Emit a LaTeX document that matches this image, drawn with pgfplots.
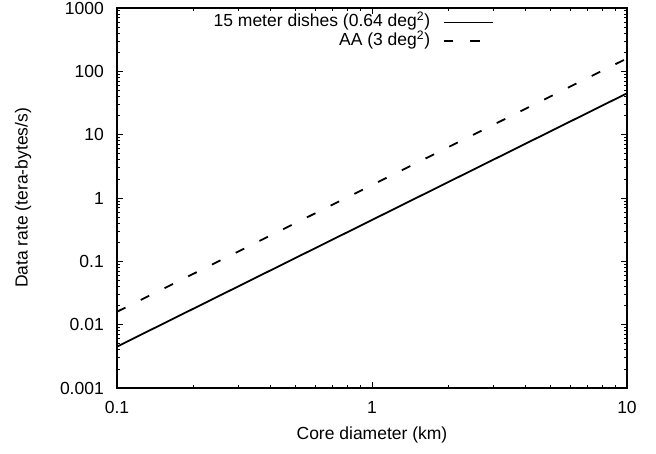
\documentclass[border=0pt]{standalone}
\usepackage{fontspec}
\setmainfont{Liberation Sans}
\usepackage{pgfplots}
\pgfplotsset{compat=1.18}
\newcommand{\fs}{\fontsize{17.5}{21}\selectfont}
\begin{document}
\begin{tikzpicture}
\path[use as bounding box] (-117pt,-65pt) rectangle (539pt,388pt);
\begin{axis}[
  at={(0pt,0pt)}, anchor=south west,
  scale only axis, width=510pt, height=380pt,
  xmode=log, ymode=log,
  xmin=0.1, xmax=10, ymin=0.001, ymax=1000,
  xtick={0.1,1,10}, xticklabels={0.1,1,10},
  ytick={0.001,0.01,0.1,1,10,100,1000},
  yticklabels={0.001,0.01,0.1,1,10,100,1000},
  minor xtick={0.2,0.3,0.4,0.5,0.6,0.7,0.8,0.9,2,3,4,5,6,7,8,9},
  minor ytick={0.002,0.003,0.004,0.005,0.006,0.007,0.008,0.009,
    0.02,0.03,0.04,0.05,0.06,0.07,0.08,0.09,
    0.2,0.3,0.4,0.5,0.6,0.7,0.8,0.9,
    2,3,4,5,6,7,8,9,20,30,40,50,60,70,80,90,200,300,400,500,600,700,800,900},
  tick align=inside, xtick pos=both, ytick pos=both,
  major tick length=6pt, minor tick length=3pt,
  every tick/.style={black, line width=0.8pt},
  axis line style={line width=1.3pt},
  every tick label/.append style={font=\fs},
  yticklabel style={inner sep=0pt, anchor=east, xshift=-13pt},
  xticklabel style={inner sep=0pt, anchor=north, yshift=-13pt},
  xlabel={Core diameter (km)},
  ylabel={Data rate (tera-bytes/s)},
  xlabel style={font=\fs, inner sep=0pt, anchor=north, at={(axis description cs:0.5,0)}, yshift=-39pt},
  ylabel style={font=\fs, inner sep=0pt, anchor=center, at={(axis description cs:0,0.5)}, yshift=94pt},
  legend plot pos=right,
  legend cell align=right,
  legend style={draw=none, fill=none, font=\fs, inner sep=0pt, outer sep=0pt,
    at={(0.739,0.983)}, anchor=north east, row sep=2.5pt, column sep=13pt,
    nodes={inner sep=0pt, text height=12.5pt, text depth=3.5pt}},
  legend image code/.code={\draw[#1] (0pt,0pt) -- (49pt,0pt);},
]
\addplot[black, line width=1.8pt] coordinates {(0.1,0.0045) (1,0.45) (10,45)};
\addlegendentry{15 meter dishes (0.64 deg\textsuperscript{2})}
\addplot[black, line width=1.8pt, dash pattern=on 9.5pt off 17pt] coordinates {(0.1,0.016) (1,1.6) (10,160)};
\addlegendentry{AA (3 deg\textsuperscript{2})}
\end{axis}
\end{tikzpicture}
\end{document}
